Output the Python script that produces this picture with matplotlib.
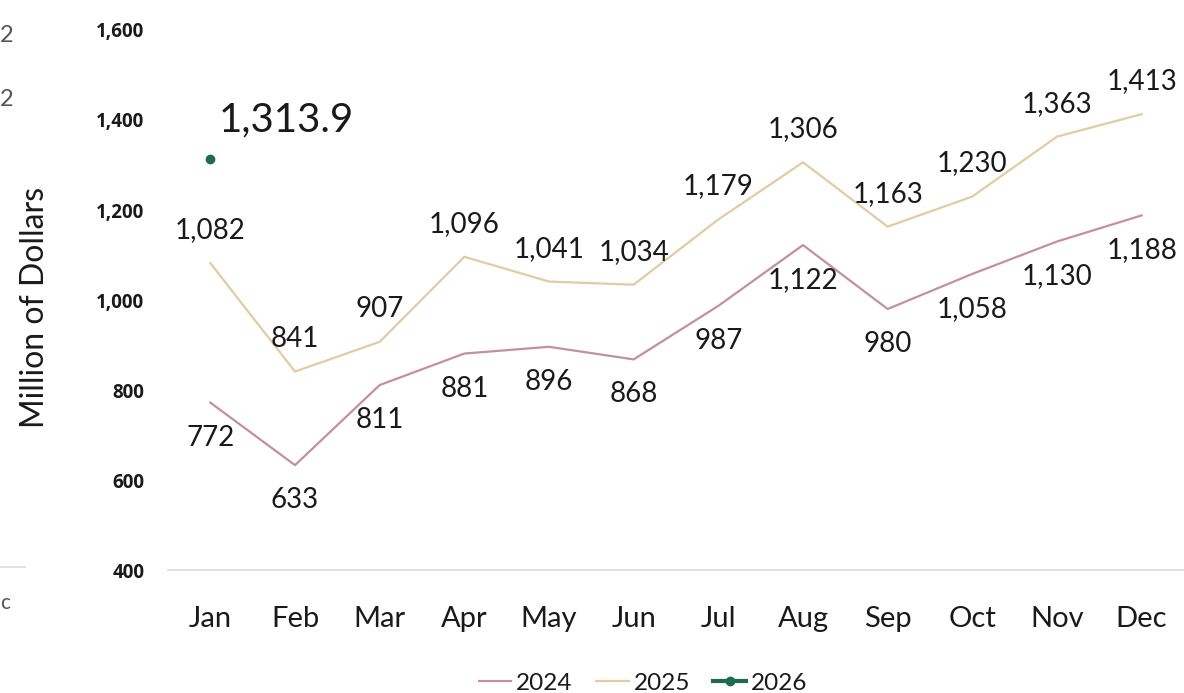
import matplotlib.pyplot as plt
from matplotlib.lines import Line2D
from matplotlib.ticker import FuncFormatter

# data
months = ["Jan", "Feb", "Mar", "Apr", "May", "Jun", "Jul", "Aug", "Sep", "Oct", "Nov", "Dec"]
sales_2024 = [772, 633, 811, 881, 896, 868, 987, 1122, 980, 1058, 1130, 1188]
sales_2025 = [1082, 841, 907, 1096, 1041, 1034, 1179, 1306, 1163, 1230, 1363, 1413]
sales_2026 = [1313.9]
y_ticks = [400, 600, 800, 1000, 1200, 1400, 1600]

c24 = "#C3909E"
c25 = "#E3CBA3"
c26 = "#1E6B53"
txt = "#1a1a1a"

plt.rcParams['font.family'] = ['Lato', 'DejaVu Sans']

fig = plt.figure(figsize=(11.84, 6.93), dpi=100)
ax = fig.add_axes([168 / 1184, 1 - 570 / 693, 1 - 168 / 1184, 540 / 693])

x = list(range(len(months)))
ax.plot(x, sales_2024, color=c24, lw=1.6, label="2024")
ax.plot(x, sales_2025, color=c25, lw=1.6, label="2025")
ax.plot(x[:len(sales_2026)], sales_2026, color=c26, lw=3, marker="o", ms=6, label="2026")

for xi, v in zip(x, sales_2024):
    ax.annotate(f"{v:,}", (xi, v), xytext=(0, -35), textcoords="offset pixels",
                ha="center", va="center", fontsize=20, color=txt)
for xi, v in zip(x, sales_2025):
    ax.annotate(f"{v:,}", (xi, v), xytext=(0, 33), textcoords="offset pixels",
                ha="center", va="center", fontsize=20, color=txt)
for xi, v in zip(x, sales_2026):
    ax.annotate(f"{v:,.1f}", (xi, v), xytext=(8, 39), textcoords="offset pixels",
                ha="left", va="center", fontsize=29, color=txt)

ax.set_xlim(-0.5, 11.5)
ax.set_ylim(400, 1600)
ax.set_yticks(y_ticks)
ax.yaxis.set_major_formatter(FuncFormatter(lambda v, p: f"{int(v):,}"))
ax.set_xticks(x)
ax.set_xticklabels(months)

for s in ["top", "right", "left"]:
    ax.spines[s].set_visible(False)
ax.spines["bottom"].set_color("#dcdcdc")
ax.spines["bottom"].set_linewidth(1.2)
ax.tick_params(axis="both", length=0)
ax.tick_params(axis="x", labelsize=21, pad=26, labelcolor=txt)
ax.tick_params(axis="y", pad=17, labelcolor=txt)
for lab in ax.get_yticklabels():
    lab.set_fontfamily(['Open Sans', 'DejaVu Sans'])
    lab.set_fontweight("bold")
    lab.set_fontsize(13.5)

ax.set_ylabel("Million of Dollars", fontsize=23, color=txt)
ax.yaxis.set_label_coords(-0.116, 0.487)

fig.legend(loc="lower center", bbox_to_anchor=(0.543, -0.033), ncol=3, frameon=False,
           fontsize=17.5, handlelength=1.35, handletextpad=0.2, columnspacing=0.95,
           labelcolor=txt)

# bits of a neighbouring chart clipped at the left edge
fig.text(0.0, 1 - 35 / 693, "2", fontsize=17, color="#555555", va="center")
fig.text(0.0, 1 - 100 / 693, "2", fontsize=17, color="#555555", va="center")
fig.text(0.0, 1 - 603 / 693, "c", fontsize=15, color="#555555", va="center")
fig.add_artist(Line2D([0, 25 / 1184], [1 - 567 / 693] * 2, color="#dcdcdc", lw=1.2))

fig.savefig("out.png", dpi=100, facecolor="white")
